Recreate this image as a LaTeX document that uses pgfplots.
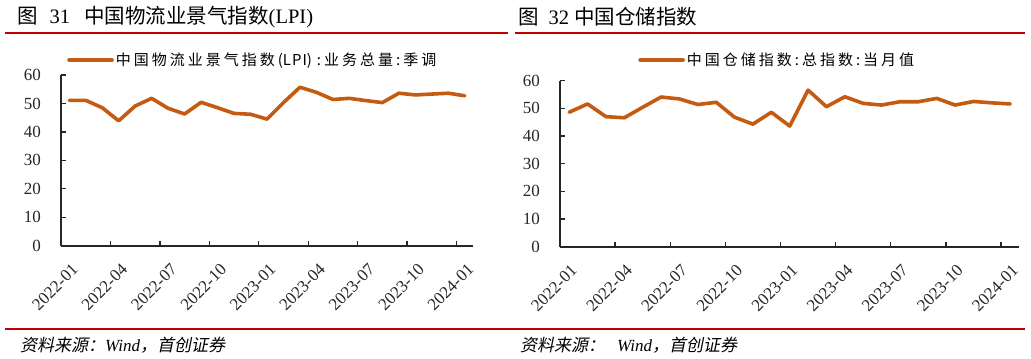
\documentclass[border=0pt]{standalone}
\usepackage{fontspec}
\setmainfont{Liberation Serif}
\newfontfamily\cjk{Noto Sans CJK SC}
\newfontfamily\cjksp[LetterSpace=20]{Noto Sans CJK SC}
\newfontfamily\cjkit[FakeSlant=0.2]{Noto Sans CJK SC}
\usepackage{pgfplots}
\pgfplotsset{compat=1.18}
\definecolor{lineor}{HTML}{C55A11}
\definecolor{rulered}{HTML}{C00000}
\pgfplotsset{
  panel/.style={
    scale only axis,
    axis x line*=bottom, axis y line*=left,
    axis line style={black!85, line width=1.6bp},
    xmin=0, xmax=25, ymin=0, ymax=60,
    xtick={0,3,...,24},
    xticklabels={2022-01,2022-04,2022-07,2022-10,2023-01,2023-04,2023-07,2023-10,2024-01},
    ytick={0,10,...,60},
    tick align=inside,
    major tick length=5bp,
    tick style={black!85, line width=1.3bp},
    /pgf/number format/assume math mode=true,
    tick label style={font=\fontsize{17bp}{17bp}\selectfont, black!85},
    x tick label style={inner sep=0pt, xshift=10bp, yshift=-17bp, rotate=45, anchor=north east},
    y tick label style={inner sep=0pt, xshift=-20bp, anchor=east},
    legend style={draw=none, fill=none, inner sep=0pt, font=\cjksp\fontsize{15bp}{15bp}\selectfont},
    legend image code/.code={\draw[#1] (0bp,0bp) -- (43bp,0bp);},
    clip=false,
  }
}
\begin{document}
\begin{tikzpicture}[x=1bp,y=1bp]
\useasboundingbox (0,0) rectangle (1031,358);
% titles
\node[anchor=west, inner sep=0pt] at (17,341) {\cjk\fontsize{20.5bp}{20.5bp}\selectfont 图\hspace{12bp}{\rmfamily 31}\hspace{14bp}中国物流业景气指数{\rmfamily(LPI)}};
\node[anchor=west, inner sep=0pt] at (518,341) {\cjk\fontsize{20.5bp}{20.5bp}\selectfont 图\hspace{10bp}{\rmfamily 32}\hspace{5bp}中国仓储指数};
\draw[rulered, line width=2.2bp] (5,325.3) -- (508,325.3);
\draw[rulered, line width=2.2bp] (515,325.3) -- (1025,325.3);
\draw[rulered, line width=1.6bp] (5,29) -- (1025,29);
\node[anchor=west, inner sep=0pt] at (20,13) {\cjkit\fontsize{17bp}{17bp}\selectfont 资料来源：{\rmfamily\itshape Wind}，首创证券};
\node[anchor=west, inner sep=0pt] at (520,13) {\cjkit\fontsize{17bp}{17bp}\selectfont 资料来源：\hspace{12bp}{\rmfamily\itshape Wind}，首创证券};

\begin{axis}[panel, at={(61bp,112.3bp)}, anchor=south west, width=412bp, height=170.7bp,
  legend style={at={(axis description cs:0.0146,1.088)}, anchor=west}]
\addplot[lineor, line width=3.6bp, line join=round, line cap=round] coordinates {
(0.5,51.1)(1.5,51.1)(2.5,48.5)(3.5,43.9)(4.5,49.1)(5.5,51.8)(6.5,48.3)(7.5,46.3)(8.5,50.4)(9.5,48.5)(10.5,46.5)(11.5,46.2)(12.5,44.5)(13.5,50.3)(14.5,55.7)(15.5,53.9)(16.5,51.4)(17.5,51.8)(18.5,51.0)(19.5,50.3)(20.5,53.6)(21.5,53.0)(22.5,53.3)(23.5,53.6)(24.5,52.7)};
\addlegendentry{中国物流业景气指数{\cjk\hspace{3bp}(L\hspace{1bp}P\hspace{1bp}I)\hspace{5bp}}:业务总量:季调}
\end{axis}

\begin{axis}[panel, at={(560bp,111.3bp)}, anchor=south west, width=459.4bp, height=166bp,
  legend style={at={(axis description cs:0.17,1.125)}, anchor=west}]
\addplot[lineor, line width=3.6bp, line join=round, line cap=round] coordinates {
(0.5,48.6)(1.5,51.6)(2.5,47.0)(3.5,46.6)(4.5,50.4)(5.5,54.1)(6.5,53.4)(7.5,51.4)(8.5,52.2)(9.5,46.8)(10.5,44.3)(11.5,48.6)(12.5,43.6)(13.5,56.6)(14.5,50.6)(15.5,54.2)(16.5,51.8)(17.5,51.2)(18.5,52.4)(19.5,52.4)(20.5,53.6)(21.5,51.2)(22.5,52.5)(23.5,52.0)(24.5,51.6)};
\addlegendentry{中国仓储指数:总指数:当月值}
\end{axis}
\end{tikzpicture}
\end{document}
